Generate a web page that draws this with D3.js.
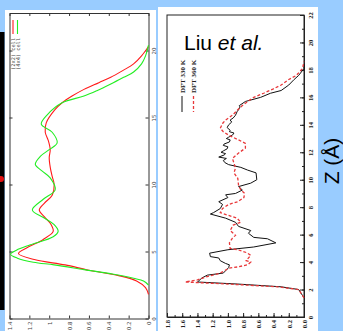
<!DOCTYPE html>
<html>
<head>
<meta charset="utf-8">
<script src="https://cdn.jsdelivr.net/npm/d3@7"></script>
<style>
  body { margin: 0; background: #99ccff; }
  svg { display: block; }
</style>
</head>
<body>
<div id="chart"></div>
<script>
// ---- left panel data: density profile vs Z, two cell sizes ----
const leftZTicks = [0, 5, 10, 15, 20];
const leftDTicks = [0, 0.2, 0.4, 0.6, 0.8, 1, 1.2, 1.4];
const leftKeys = ['(2x2) cell', '(4x4) cell'];

const z2x2 = [1.8, 2.3, 2.8, 3.2, 3.6, 4.0, 4.4, 4.85, 5.3, 5.9, 6.5, 7.0, 7.6, 8.1, 8.6, 9.2, 10.0, 10.6, 11.3, 12.0, 12.6, 13.3, 13.9, 14.6, 15.6, 16.1, 16.6, 17.1, 17.6, 18.0, 18.5, 19.0, 19.6, 20.3];
const d2x2 = [0, 0.03, 0.12, 0.3, 0.6, 0.84, 1.15, 1.31, 1.22, 1.06, 0.96, 0.98, 1.05, 1.10, 1.05, 0.97, 0.95, 0.97, 0.99, 1.0, 0.99, 1.01, 1.04, 1.03, 0.94, 0.87, 0.77, 0.65, 0.5, 0.38, 0.26, 0.15, 0.07, 0];

const z4x4 = [2.5, 2.8, 3.0, 3.3, 3.65, 4.0, 4.2, 4.5, 4.8, 5.1, 5.5, 6.1, 6.5, 7.0, 7.5, 8.1, 8.9, 9.6, 10.5, 11.0, 11.5, 12.1, 12.6, 13.1, 13.9, 14.5, 15.2, 16.1, 16.6, 17.0, 17.5, 18.0, 18.4, 19.0, 19.6, 20.4];
const d4x4 = [0, 0.05, 0.15, 0.35, 0.65, 0.95, 1.16, 1.32, 1.39, 1.33, 1.19, 0.96, 0.91, 0.95, 1.05, 1.17, 1.06, 0.94, 0.99, 1.07, 1.14, 1.09, 1.0, 0.92, 0.97, 1.08, 1.02, 0.87, 0.65, 0.52, 0.38, 0.25, 0.15, 0.07, 0.03, 0];

// ---- right panel data: Liu et al., DFT at two temperatures ----
const rightZTicks = d3.range(0, 23, 2);
const rightDTicks = [0, 0.2, 0.4, 0.6, 0.8, 1.0, 1.2, 1.4, 1.6, 1.8];
const rightKeys = ['DFT 330 K', 'DFT 360 K'];

const z330 = [1.4, 2.0, 2.2, 2.4, 2.55, 2.85, 3.05, 3.2, 3.6, 3.8, 3.9, 4.1, 4.3, 4.4, 4.65, 4.9, 5.1, 5.4, 5.7, 5.8, 6.1, 6.3, 6.6, 6.9, 7.2, 7.5, 7.6, 7.9, 8.2, 8.4, 8.7, 8.9, 9.0, 9.25, 9.5, 9.75, 10.0, 10.5, 10.7, 10.9, 11.1, 11.25, 11.4, 11.55, 11.65, 11.8, 11.9, 12.0, 12.1, 12.25, 12.4, 12.5, 12.6, 12.75, 12.9, 13.0, 13.1, 13.25, 13.4, 13.5, 13.6, 13.8, 14.0, 14.2, 14.35, 14.5, 14.7, 14.95, 15.1, 15.3, 15.4, 15.7, 16.0, 16.3, 16.5, 16.9, 17.3, 17.6, 18.1, 18.4];
const d330 = [0, 0.07, 0.30, 0.87, 1.40, 1.34, 1.27, 1.06, 0.99, 0.98, 1.03, 1.10, 1.12, 1.23, 1.24, 1.0, 0.66, 0.37, 0.48, 0.66, 0.73, 0.70, 0.86, 0.90, 1.03, 1.23, 1.19, 1.10, 1.07, 1.12, 1.0, 1.03, 0.90, 0.81, 0.86, 0.70, 0.62, 0.63, 0.74, 0.83, 0.99, 1.04, 1.06, 1.02, 1.12, 1.05, 1.03, 1.09, 1.06, 1.01, 1.0, 1.06, 1.05, 0.98, 0.97, 1.02, 0.99, 0.94, 0.92, 0.98, 0.97, 1.01, 0.99, 0.95, 0.97, 0.93, 0.90, 0.88, 0.86, 0.84, 0.85, 0.77, 0.57, 0.44, 0.30, 0.20, 0.13, 0.07, 0, 0];

const z360 = [1.4, 2.0, 2.2, 2.4, 2.55, 2.7, 2.95, 3.2, 3.55, 3.65, 3.8, 4.0, 4.1, 4.5, 4.7, 4.9, 5.0, 5.4, 5.75, 5.95, 6.3, 6.7, 6.9, 7.2, 7.4, 7.6, 7.9, 8.2, 8.4, 8.7, 9.0, 9.25, 9.6, 10.1, 10.5, 10.85, 11.2, 11.55, 11.9, 12.3, 12.65, 12.9, 13.25, 13.5, 13.75, 14.1, 14.35, 14.7, 15.1, 15.4, 15.7, 16.0, 16.3, 16.6, 16.9, 17.3, 17.6, 18.1, 18.6];
const d360 = [0, 0.07, 0.35, 1.0, 1.56, 1.40, 1.27, 1.10, 0.99, 0.87, 0.74, 0.70, 0.76, 0.70, 0.76, 0.87, 0.97, 0.98, 0.94, 0.90, 0.97, 0.93, 0.83, 0.88, 0.99, 1.10, 1.07, 0.99, 0.87, 0.79, 0.78, 0.83, 0.86, 0.87, 0.92, 0.90, 0.92, 0.94, 0.87, 0.77, 0.77, 0.86, 0.99, 1.06, 1.10, 1.07, 1.03, 0.94, 0.87, 0.81, 0.74, 0.66, 0.53, 0.41, 0.30, 0.20, 0.10, 0.02, 0];

const W = 343, H = 331;
const svg = d3.select('#chart').append('svg')
    .attr('width', W)
    .attr('height', H);

// slide background pieces
svg.append('rect').attr('width', W).attr('height', H).attr('fill', '#99ccff');
svg.append('rect').attr('x', 0).attr('y', 32).attr('width', 4.5).attr('height', 278).attr('fill', '#000');
svg.append('circle').attr('cx', 1).attr('cy', 179).attr('r', 3).attr('fill', '#e01010');
svg.append('rect').attr('x', 5).attr('y', 10).attr('width', 151).attr('height', H - 10).attr('fill', '#fff');
svg.append('rect').attr('x', 158).attr('y', 7).attr('width', 160).attr('height', H - 7).attr('fill', '#fff');

const zip = (zs, ds) => zs.map((z, i) => ({z: z, d: ds[i]}));

// rotate tick labels so they read bottom-to-top like the original figure
function rotateBottomLabels(g, gap) {
    g.selectAll('.tick text')
        .attr('transform', 'rotate(-90)')
        .attr('x', -gap).attr('y', 0).attr('dy', '0.35em')
        .attr('text-anchor', 'end');
}
function rotateRightLabels(g, base) {
    g.selectAll('.tick text')
        .attr('transform', 'rotate(-90)')
        .attr('x', 0).attr('y', base).attr('dy', 0)
        .attr('text-anchor', 'middle');
}

// ================= left panel =================
const xL = d3.scaleLinear().domain([0, 1.4]).range([148.5, 9.5]);
const yL = d3.scaleLinear().domain([0, 22.8]).range([318.5, 13]);
const left = svg.append('g');
const frameL = '#333';

left.append('g').attr('transform', 'translate(0,' + yL.range()[0] + ')')
    .call(d3.axisBottom(xL).tickValues(leftDTicks).tickSize(-3).tickSizeOuter(0).tickFormat(d3.format('~g')))
    .call(g => rotateBottomLabels(g, 3));
left.append('g').attr('transform', 'translate(0,' + yL.range()[1] + ')')
    .call(d3.axisTop(xL).tickValues(leftDTicks).tickSize(-3).tickSizeOuter(0).tickFormat(''));
left.append('g').attr('transform', 'translate(' + xL.range()[0] + ',0)')
    .call(d3.axisRight(yL).tickValues(leftZTicks).tickSize(-3).tickSizeOuter(0))
    .call(g => rotateRightLabels(g, 7.5));
left.append('g').attr('transform', 'translate(' + xL.range()[1] + ',0)')
    .call(d3.axisLeft(yL).tickValues(leftZTicks).tickSize(-3).tickSizeOuter(0).tickFormat(''));
left.selectAll('.domain').attr('stroke', frameL);
left.selectAll('.tick line').attr('stroke', frameL);
left.selectAll('.tick text').attr('font-family', 'DejaVu Sans').attr('font-size', 5.5).attr('fill', '#444');

const lineL = d3.line().x(p => xL(p.d)).y(p => yL(p.z)).curve(d3.curveCatmullRom);
const leftSeries = [
    {name: leftKeys[0], color: '#ff1a1a', pts: zip(z2x2, d2x2)},
    {name: leftKeys[1], color: '#22ee22', pts: zip(z4x4, d4x4)}
];
left.selectAll('path.curve').data(leftSeries).enter().append('path')
    .attr('class', 'curve')
    .attr('d', s => lineL(s.pts))
    .attr('fill', 'none')
    .attr('stroke', s => s.color)
    .attr('stroke-width', 1.1);

// legend (rotated key)
const keyL = left.selectAll('g.key').data(leftSeries).enter().append('g')
    .attr('class', 'key')
    .attr('transform', (s, i) => 'translate(' + (13 + i * 4.5) + ',0)');
keyL.append('line').attr('x1', 0).attr('x2', 0).attr('y1', 20).attr('y2', 34)
    .attr('stroke', s => s.color).attr('stroke-width', 1.1);
keyL.append('text')
    .attr('transform', 'translate(2,38) rotate(-90)')
    .attr('text-anchor', 'end')
    .attr('font-family', 'DejaVu Sans Mono').attr('font-size', 5.3).attr('fill', '#444')
    .text(s => s.name);

// ================= right panel =================
const xR = d3.scaleLinear().domain([0, 1.8]).range([304, 167]);
const yR = d3.scaleLinear().domain([0, 22]).range([317, 15]);
const right = svg.append('g');

right.append('rect')
    .attr('x', xR.range()[1]).attr('y', yR.range()[1])
    .attr('width', xR.range()[0] - xR.range()[1])
    .attr('height', yR.range()[0] - yR.range()[1])
    .attr('fill', 'none').attr('stroke', '#222').attr('stroke-width', 1);

right.append('g').attr('transform', 'translate(0,' + yR.range()[0] + ')')
    .call(d3.axisBottom(xR).tickValues(d3.range(0, 1.85, 0.1)).tickSize(-2).tickSizeOuter(0).tickFormat(''));
right.append('g').attr('transform', 'translate(0,' + yR.range()[0] + ')')
    .call(d3.axisBottom(xR).tickValues(rightDTicks).tickSize(-4).tickSizeOuter(0).tickFormat(d3.format('.1f')))
    .call(g => rotateBottomLabels(g, 3));
right.append('g').attr('transform', 'translate(' + xR.range()[0] + ',0)')
    .call(d3.axisRight(yR).tickValues(d3.range(0, 23, 1)).tickSize(-2).tickSizeOuter(0).tickFormat(''));
right.append('g').attr('transform', 'translate(' + xR.range()[0] + ',0)')
    .call(d3.axisRight(yR).tickValues(rightZTicks).tickSize(-4).tickSizeOuter(0))
    .call(g => rotateRightLabels(g, 9));
right.selectAll('.domain').attr('stroke', '#222');
right.selectAll('.tick line').attr('stroke', '#222');
right.selectAll('.tick text').attr('font-family', 'Liberation Serif').attr('font-weight', 'bold')
    .attr('font-size', 6.5).attr('fill', '#222');

const lineR = d3.line().x(p => xR(p.d)).y(p => yR(p.z));
const rightSeries = [
    {name: rightKeys[0], color: '#111', dash: null, pts: zip(z330, d330)},
    {name: rightKeys[1], color: '#e8383a', dash: '3,2', pts: zip(z360, d360)}
];
right.selectAll('path.curve').data(rightSeries).enter().append('path')
    .attr('class', 'curve')
    .attr('d', s => lineR(s.pts))
    .attr('fill', 'none')
    .attr('stroke', s => s.color)
    .attr('stroke-width', (s, i) => i ? 1.3 : 1)
    .attr('stroke-dasharray', s => s.dash);

const keyR = right.selectAll('g.key').data(rightSeries).enter().append('g')
    .attr('class', 'key')
    .attr('transform', (s, i) => 'translate(' + (182 + i * 11.5) + ',0)');
keyR.append('line').attr('x1', 0).attr('x2', 0).attr('y1', 96).attr('y2', 112)
    .attr('stroke', s => s.color).attr('stroke-width', (s, i) => i ? 1.3 : 1)
    .attr('stroke-dasharray', s => s.dash);
keyR.append('text')
    .attr('transform', 'translate(2.5,93) rotate(-90)')
    .attr('font-family', 'Liberation Serif').attr('font-weight', 'bold')
    .attr('font-size', 7).attr('fill', '#222')
    .text(s => s.name);

const liu = right.append('text')
    .attr('x', 184).attr('y', 50)
    .attr('font-family', 'Liberation Sans').attr('font-size', 21).attr('fill', '#000');
liu.append('tspan').text('Liu ');
liu.append('tspan').attr('font-style', 'italic').text('et al.');

// axis title on the slide background
svg.append('text')
    .attr('transform', 'translate(339,161) rotate(-90)')
    .attr('text-anchor', 'middle')
    .attr('font-family', 'Liberation Sans').attr('font-size', 21).attr('fill', '#000')
    .text('Z (Å)');
</script>
</body>
</html>
